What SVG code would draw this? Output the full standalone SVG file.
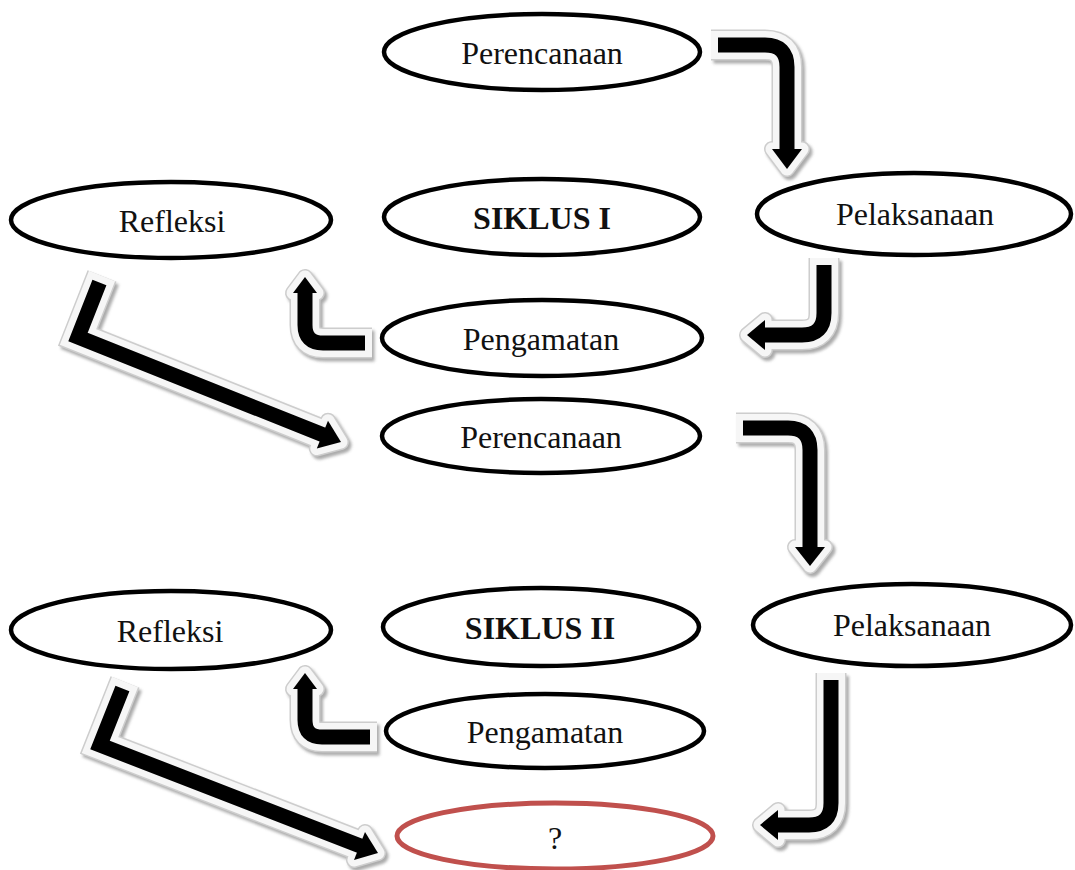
<svg xmlns="http://www.w3.org/2000/svg" width="1075" height="870" viewBox="0 0 1075 870">
<defs>
<style>
.node ellipse{fill:#fff;stroke:#000;stroke-width:4.5}
.node text{font-family:"Liberation Serif","Times New Roman",serif;font-size:32px;text-anchor:middle;fill:#111}
.node text.b{font-weight:bold}
#n_next ellipse{stroke:#c0504d;stroke-width:5}
.s{fill:none;stroke-width:var(--sw);stroke-linejoin:miter;stroke-dasharray:var(--da)}
.h{stroke-width:var(--hw);stroke-linejoin:round}
.lay-sh{stroke:#8f8f8f;fill:#8f8f8f;--sw:31px;--hw:16px;--da:none;opacity:.75}
.lay-ed{stroke:#cdcdcd;fill:#cdcdcd;--sw:31px;--hw:16px;--da:none}
.lay-wh{stroke:#f6f6f6;fill:#f6f6f6;--sw:28px;--hw:13px;--da:none}
.lay-core{stroke:#000;fill:#000;--sw:15px;--hw:0px;--da:0 7 3000}
</style>
<filter id="blur" x="-20%" y="-20%" width="140%" height="140%"><feGaussianBlur stdDeviation="1.6"/></filter>
<g id="aA"><path class="s" d="M711,45 H765 Q787,45 787,67 V153"/><polygon class="h" points="772,149 802,149 787,169"/></g>
<g id="aB"><path class="s" d="M824,258 V313 Q824,335 802,335 H761"/><polygon class="h" points="765,320 765,350 747,335"/></g>
<g id="aC"><path class="s" d="M372,343 H323 Q305,343 305,325 V290"/><polygon class="h" points="293,293 317,293 305,277"/></g>
<g id="aD"><path class="s" d="M102,276 L78,337 L326,436"/><polygon class="h" points="316.8,448.5 328,420.7 341,442"/></g>
<g id="aE"><path class="s" d="M736,428 H788 Q810,428 810,450 V551"/><polygon class="h" points="795,547 825,547 810,566"/></g>
<g id="aF"><path class="s" d="M831,673 V803 Q831,825 809,825 H775"/><polygon class="h" points="778,810 778,840 760,825"/></g>
<g id="aG"><path class="s" d="M377,737 H322 Q305,737 305,720 V686"/><polygon class="h" points="293,689 317,689 305,673"/></g>
<g id="aH"><path class="s" d="M125,682 L100,745 L363,847"/><polygon class="h" points="354,860 365,832 378,853"/></g>
</defs>
<rect width="1075" height="870" fill="#fff"/>
<g id="connectors">
<g class="lay-sh" transform="translate(2.5,3)" filter="url(#blur)">
<use href="#aA"/><use href="#aB"/><use href="#aC"/><use href="#aD"/><use href="#aE"/><use href="#aF"/><use href="#aG"/><use href="#aH"/>
</g>
<g class="lay-ed">
<use href="#aA"/><use href="#aB"/><use href="#aC"/><use href="#aD"/><use href="#aE"/><use href="#aF"/><use href="#aG"/><use href="#aH"/>
</g>
<g class="lay-wh">
<use href="#aA"/><use href="#aB"/><use href="#aC"/><use href="#aD"/><use href="#aE"/><use href="#aF"/><use href="#aG"/><use href="#aH"/>
</g>
<g class="lay-core">
<use href="#aA"/><use href="#aB"/><use href="#aC"/><use href="#aD"/><use href="#aE"/><use href="#aF"/><use href="#aG"/><use href="#aH"/>
</g>
</g>
<g id="n_perencanaan1" class="node"><ellipse cx="542" cy="52" rx="158" ry="38"/><text x="542" y="64">Perencanaan</text></g>
<g id="n_refleksi1" class="node"><ellipse cx="171" cy="220" rx="160" ry="38"/><text x="172" y="232">Refleksi</text></g>
<g id="n_siklus1" class="node"><ellipse cx="542" cy="217" rx="158" ry="38"/><text class="b" x="542" y="229">SIKLUS I</text></g>
<g id="n_pelaksanaan1" class="node"><ellipse cx="914" cy="214" rx="157" ry="41"/><text x="915" y="225">Pelaksanaan</text></g>
<g id="n_pengamatan1" class="node"><ellipse cx="542" cy="338" rx="160" ry="38"/><text x="541" y="350">Pengamatan</text></g>
<g id="n_perencanaan2" class="node"><ellipse cx="541" cy="436" rx="159" ry="37"/><text x="541" y="448">Perencanaan</text></g>
<g id="n_refleksi2" class="node"><ellipse cx="171" cy="630" rx="160" ry="39"/><text x="170" y="642">Refleksi</text></g>
<g id="n_siklus2" class="node"><ellipse cx="541" cy="627" rx="158" ry="39"/><text class="b" x="540" y="639">SIKLUS II</text></g>
<g id="n_pelaksanaan2" class="node"><ellipse cx="912" cy="625" rx="159" ry="41"/><text x="912" y="636">Pelaksanaan</text></g>
<g id="n_pengamatan2" class="node"><ellipse cx="545" cy="731" rx="159" ry="37"/><text x="545" y="743">Pengamatan</text></g>
<g id="n_next" class="node"><ellipse cx="555" cy="836" rx="158" ry="33"/><text x="555" y="849">?</text></g>
</svg>
